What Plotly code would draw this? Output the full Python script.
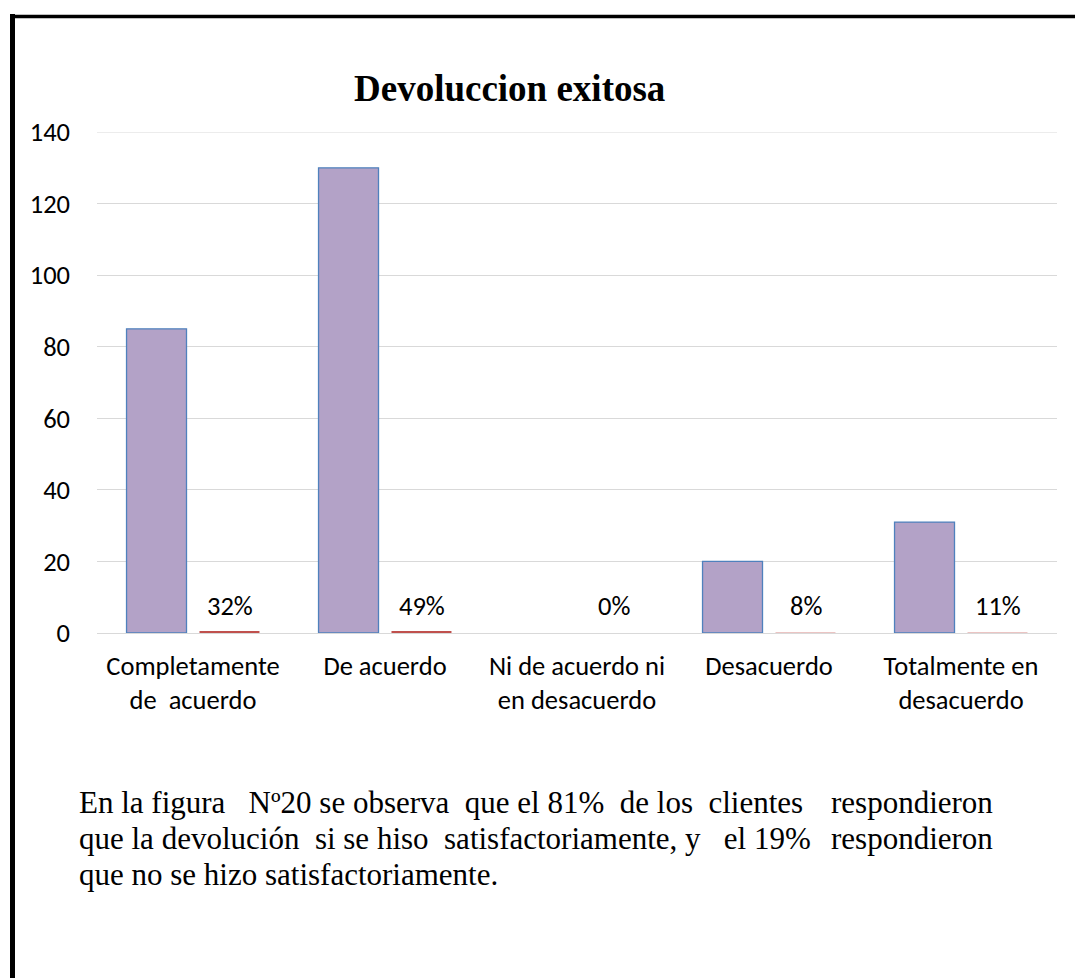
import plotly.graph_objects as go

categories = ["Completamente<br>de  acuerdo", "De acuerdo", "Ni de acuerdo ni<br>en desacuerdo",
              "Desacuerdo", "Totalmente en<br>desacuerdo"]
counts = [85, 130, 0, 20, 31]
shares = [0.32, 0.49, 0.0, 0.08, 0.11]
share_labels = ["32%", "49%", "0%", "8%", "11%"]

title_text = "Devoluccion exitosa"
NB = "\u00a0"
paragraph_lines = [
    ("En la figura " + NB * 2 + "Nº20 se observa " + NB + "que el 81% " + NB + "de los " + NB + "clientes " + NB,
     "respondieron"),
    ("que la devolución " + NB + "si se hiso " + NB + "satisfactoriamente, y " + NB * 2 + "el 19% " + NB,
     "respondieron"),
    ("que no se hizo satisfactoriamente.", ""),
]

W, H = 1075, 978
L, R, T, B = 97, 18, 132, 345
PW, PH = W - L - R, H - T - B

def px_x(p):
    return (p - L) / PW

def px_y(p):
    return (H - B - p) / PH

label_font = dict(family="Carlito, Calibri, Lato, sans-serif", size=26.5, color="#000000")

fig = go.Figure()
fig.add_trace(go.Bar(
    x=categories, y=counts, name="Frecuencia",
    marker=dict(color="#b3a2c7",
                line=dict(color="#4f81bd", width=[1.3 if v > 0 else 0 for v in counts])),
))
fig.add_trace(go.Bar(
    x=categories, y=shares, name="Porcentaje",
    marker=dict(color=["#c0504d" if v >= 0.3 else "#ebc4c3" for v in shares], line=dict(width=0)),
))

annotations = []
for cat, lab in zip(categories, share_labels):
    annotations.append(dict(
        x=cat, y=0, xref="x", yref="y", text=lab, showarrow=False,
        xshift=36.5, yshift=27, yanchor="middle", xanchor="center", font=label_font,
    ))

annotations.append(dict(
    x=px_x(509), y=px_y(89), xref="paper", yref="paper", text="<b>" + title_text + "</b>",
    showarrow=False, xanchor="center", yanchor="middle",
    font=dict(family="Liberation Serif, Times New Roman, serif", size=37, color="#000000"),
))

para_font = dict(family="Liberation Serif, Times New Roman, serif", size=31, color="#000000")
for i, (left, right) in enumerate(paragraph_lines):
    yc = 802 + 36 * i
    annotations.append(dict(
        x=px_x(77), y=px_y(yc), xref="paper", yref="paper", text=left, showarrow=False,
        xanchor="left", yanchor="middle", font=para_font,
    ))
    if right:
        annotations.append(dict(
            x=px_x(995), y=px_y(yc), xref="paper", yref="paper", text=right, showarrow=False,
            xanchor="right", yanchor="middle", font=para_font,
        ))

shapes = [
    dict(type="line", xref="paper", yref="paper", x0=px_x(12.5), x1=px_x(12.5),
         y0=px_y(14), y1=px_y(H + 5), line=dict(color="#000000", width=5)),
    dict(type="line", xref="paper", yref="paper", x0=px_x(10), x1=px_x(W + 5),
         y0=px_y(16.5), y1=px_y(16.5), line=dict(color="#000000", width=3.5)),
    dict(type="line", xref="paper", yref="y", x0=0, x1=1, y0=140, y1=140,
         line=dict(color="#d9d9d9", width=1), layer="below"),
]

fig.update_layout(
    width=W, height=H,
    margin=dict(l=L, r=R, t=T, b=B, pad=0),
    paper_bgcolor="white", plot_bgcolor="white",
    barmode="group", bargap=0.24, bargroupgap=0.178,
    showlegend=False,
    annotations=annotations, shapes=shapes,
    font=label_font,
)
fig.update_yaxes(range=[0, 140], dtick=20, showgrid=True, gridcolor="#d9d9d9", gridwidth=1,
                 zeroline=True, zerolinecolor="#d9d9d9", zerolinewidth=1, showline=False,
                 ticks="", ticklabelstandoff=26, tickfont=label_font, fixedrange=True)
fig.update_xaxes(showgrid=False, showline=False, ticks="", ticklabelstandoff=14,
                 tickfont=label_font, tickangle=0)

fig.write_html("out.html")
